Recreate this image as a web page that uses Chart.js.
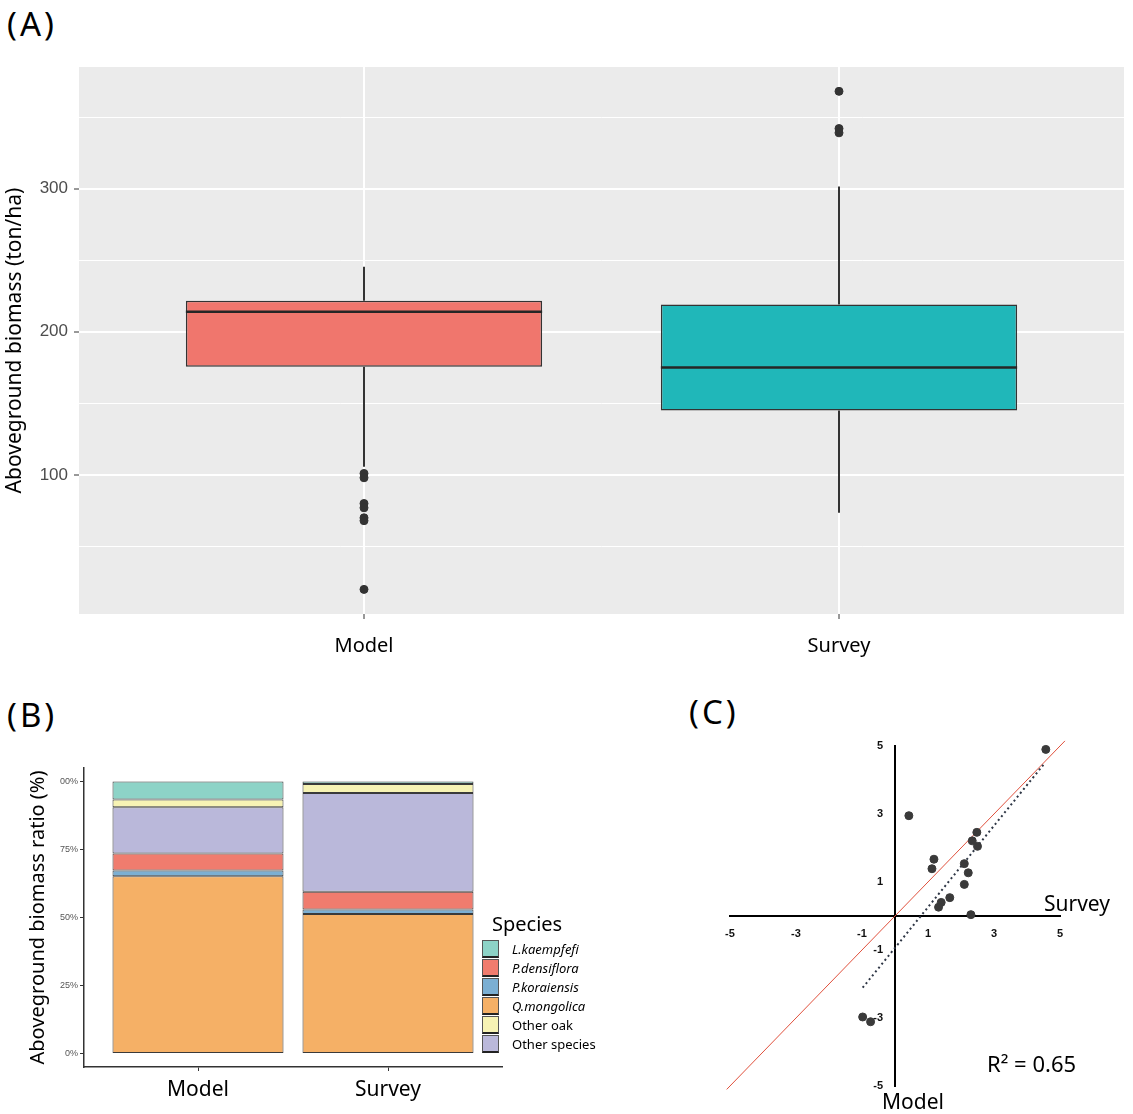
<!DOCTYPE html>
<html>
<head>
<meta charset="utf-8">
<script src="https://cdn.jsdelivr.net/npm/chart.js@4.4.1/dist/chart.umd.min.js"></script>
<style>
  html, body { margin: 0; padding: 0; background: #fff; }
  body { width: 1133px; height: 1114px; position: relative; overflow: hidden; font-family: "Noto Sans", sans-serif; }
  canvas { position: absolute; }
  .txt { position: absolute; white-space: nowrap; line-height: 1.2; color: #000; }
  .panel { font-size: 33px; letter-spacing: 3px; }
  .legend-row { position: absolute; left: 482px; height: 19px; line-height: 19px; font-size: 13px; white-space: nowrap; }
  .legend-key { position: absolute; left: 0; top: 0; width: 17px; height: 18px; border: 1px solid #555; border-bottom: 2px solid #222; box-sizing: border-box; }
  .legend-label { position: absolute; left: 30px; top: 0; }
</style>
</head>
<body>
<div class="txt panel" style="left:7px;top:4px">(A)</div>
<canvas id="boxChart" width="1133" height="680" style="left:0;top:0"></canvas>

<div class="txt panel" style="left:7px;top:695px">(B)</div>
<canvas id="shareChart" width="620" height="424" style="left:0;top:690px"></canvas>
<div class="txt" style="left:492px;top:912px;font-size:20px">Species</div>
<div id="shareLegend"></div>

<div class="txt panel" style="left:689px;top:692px">(C)</div>
<canvas id="fitChart" width="453" height="424" style="left:680px;top:690px"></canvas>
<div class="txt" style="left:1044px;top:891px;font-size:21px">Survey</div>
<div class="txt" style="left:882px;top:1089px;font-size:21px">Model</div>
<div class="txt" style="left:987px;top:1050px;font-size:22px">R² = 0.65</div>

<script>
// --- (A) biomass per group (ton/ha) ---
var boxGroups = ['Model', 'Survey'];
var boxQ1 = [175.5, 145];
var boxMedian = [214, 175];
var boxQ3 = [221.7, 219];
var whiskerLow = [105.6, 73.5];
var whiskerHigh = [245.5, 301.5];
var outliersModel = [101, 98, 80, 77, 70, 68, 20];
var outliersSurvey = [368, 342, 339];
var yTicksA = [50, 100, 150, 200, 250, 300, 350];

// --- (B) share of aboveground biomass (%), stacked bottom -> top ---
var shareGroups = ['Model', 'Survey'];
var speciesStack = ['Q.mongolica', 'P.koraiensis', 'P.densiflora', 'Other species', 'Other oak', 'L.kaempfefi'];
var shareModel = [65.2, 2.1, 6.2, 17.1, 2.8, 6.6];
var shareSurvey = [51.3, 1.6, 6.6, 36.3, 3.3, 0.9];
var legendOrder = ['L.kaempfefi', 'P.densiflora', 'P.koraiensis', 'Q.mongolica', 'Other oak', 'Other species'];
var yTicksB = [0, 25, 50, 75, 100];
var yTickLabelsB = ['0%', '25%', '50%', '75%', '00%'];

// --- (C) survey vs model ---
var surveyVals = [4.57, 0.42, 2.48, 2.34, 2.50, 1.18, 1.12, 2.10, 2.22, 2.10, 1.66, 1.40, 1.32, 2.30, -0.98, -0.74];
var modelVals = [4.90, 2.95, 2.46, 2.21, 2.05, 1.67, 1.39, 1.54, 1.27, 0.93, 0.54, 0.40, 0.26, 0.04, -2.97, -3.11];
var identityEnds = [-5.1, 5.15];
var fitEndsX = [-0.98, 4.55];
var fitEndsY = [-2.11, 4.51];
var axisTicksC = [-5, -3, -1, 1, 3, 5];

// styles
var ink = '#333333';
var boxColors = ['#F0766D', '#20B7B9'];
var BOX_WIDTH = 0.75;
var speciesColors = {
    'L.kaempfefi': '#8DD3C7',
    'P.densiflora': '#F07C6E',
    'P.koraiensis': '#7BAFD3',
    'Q.mongolica': '#F5B066',
    'Other oak': '#F7F3B4',
    'Other species': '#BAB8DA'
};
var italicNames = ['L.kaempfefi', 'P.densiflora', 'P.koraiensis', 'Q.mongolica'];

Chart.defaults.font.family = "'Noto Sans', sans-serif";
Chart.defaults.color = '#000';

// nền xám cho vùng vẽ (theme ggplot)
var panelBg = {
    id: 'panelBg',
    beforeDraw: function (chart, args, opts) {
        var a = chart.chartArea;
        chart.ctx.save();
        chart.ctx.fillStyle = opts.color;
        chart.ctx.fillRect(a.left, a.top, a.right - a.left, a.bottom - a.top);
        chart.ctx.restore();
    }
};

// nhãn trục y đặt cạnh trục giữa (Chart.js không cộng padding cho trục đặt theo giá trị)
var centerYLabels = {
    id: 'centerYLabels',
    afterDraw: function (chart, args, opts) {
        var ys = chart.scales.y, xs = chart.scales.x;
        var ctx = chart.ctx;
        var x0 = xs.getPixelForValue(0) - opts.gap;
        ctx.save();
        ctx.font = opts.font;
        ctx.fillStyle = opts.color;
        ctx.textAlign = 'right';
        ctx.textBaseline = 'middle';
        ys.ticks.forEach(function (t) {
            ctx.fillText(String(t.value), x0, ys.getPixelForValue(t.value));
        });
        ctx.restore();
    }
};

function groupTicks(groups) {
    return function (scale) { scale.ticks = groups.map(function (g, i) { return { value: i + 1 }; }); };
}

// === (A) BOXPLOT ===
var whiskerSets = boxGroups.map(function (g, i) {
    return {
        type: 'line',
        data: [
            { x: i + 1, y: whiskerHigh[i] }, { x: i + 1, y: boxQ3[i] }, { x: i + 1, y: null },
            { x: i + 1, y: boxQ1[i] }, { x: i + 1, y: whiskerLow[i] }
        ],
        borderColor: ink, borderWidth: 2, pointRadius: 0, spanGaps: false, order: 3
    };
});
var medianSets = boxGroups.map(function (g, i) {
    return {
        type: 'line',
        data: [{ x: i + 1 - BOX_WIDTH / 2, y: boxMedian[i] }, { x: i + 1 + BOX_WIDTH / 2, y: boxMedian[i] }],
        borderColor: '#262626', borderWidth: 2.5, pointRadius: 0, order: 1
    };
});
var outlierPoints = outliersModel.map(function (v) { return { x: 1, y: v }; })
    .concat(outliersSurvey.map(function (v) { return { x: 2, y: v }; }));

new Chart(document.getElementById('boxChart'), {
    type: 'bar',
    data: {
        datasets: [{
            type: 'bar',
            data: boxGroups.map(function (g, i) { return { x: i + 1, y: [boxQ1[i], boxQ3[i]] }; }),
            backgroundColor: boxColors, borderColor: ink, borderWidth: 1.5, borderSkipped: false,
            barPercentage: BOX_WIDTH, categoryPercentage: 1, order: 2
        }].concat(whiskerSets, medianSets, [{
            type: 'scatter', data: outlierPoints, backgroundColor: ink, borderColor: ink,
            pointRadius: 4, order: 0
        }])
    },
    options: {
        responsive: false, animation: false, events: [],
        layout: { padding: { left: 0, top: 67, right: 9, bottom: 0 } },
        plugins: { legend: { display: false }, tooltip: { enabled: false }, panelBg: { color: '#EBEBEB' } },
        scales: {
            x: {
                type: 'linear', min: 0.4, max: 2.6, offset: false,
                afterBuildTicks: groupTicks(boxGroups),
                afterFit: function (s) { s.height = 66; },
                grid: { offset: false, color: '#FFFFFF', lineWidth: 2, tickColor: ink, tickLength: 5, tickWidth: 1 },
                border: { display: false },
                ticks: {
                    callback: function (v) { return boxGroups[v - 1]; },
                    padding: 15, color: '#000', font: { size: 20 }, maxRotation: 0, autoSkip: false
                }
            },
            y: {
                type: 'linear', min: 2.8, max: 385, beginAtZero: false,
                afterBuildTicks: function (s) { s.ticks = yTicksA.map(function (v) { return { value: v }; }); },
                afterFit: function (s) { s.width = 79; },
                grid: {
                    color: '#FFFFFF',
                    lineWidth: function (c) { return c.tick && c.tick.value % 100 === 0 ? 2 : 1; },
                    tickColor: function (c) { return c.tick && c.tick.value % 100 === 0 ? ink : 'rgba(0,0,0,0)'; },
                    tickLength: 5, tickWidth: 1
                },
                border: { display: false },
                ticks: {
                    callback: function (v) { return v % 100 === 0 ? String(v) : ''; },
                    padding: 6, color: '#4D4D4D', font: { family: "'Liberation Sans', Arial, sans-serif", size: 17 }
                },
                title: {
                    display: true, text: 'Aboveground biomass (ton/ha)', color: '#000',
                    font: { size: 21 }, padding: { top: 2, bottom: 0 }
                }
            }
        }
    },
    plugins: [panelBg]
});

// === (B) STACKED BARS ===
new Chart(document.getElementById('shareChart'), {
    type: 'bar',
    data: {
        datasets: speciesStack.map(function (sp, k) {
            return {
                label: sp,
                data: [{ x: 1, y: shareModel[k] }, { x: 2, y: shareSurvey[k] }],
                backgroundColor: speciesColors[sp], borderColor: '#3A3A3A', borderWidth: 1,
                borderSkipped: false, barPercentage: 0.9, categoryPercentage: 1, stack: 'share'
            };
        })
    },
    options: {
        responsive: false, animation: false, events: [],
        layout: { padding: { left: 0, top: 78, right: 118, bottom: 0 } },
        plugins: { legend: { display: false }, tooltip: { enabled: false } },
        scales: {
            x: {
                type: 'linear', min: 0.4, max: 2.6, offset: false,
                afterBuildTicks: groupTicks(shareGroups),
                afterFit: function (s) { s.height = 47; },
                grid: { offset: false, drawOnChartArea: false, tickLength: 4, tickColor: ink, tickWidth: 1 },
                border: { display: true, color: ink, width: 1.5 },
                ticks: {
                    callback: function (v) { return shareGroups[v - 1]; },
                    padding: 6, color: '#000', font: { size: 21 }, maxRotation: 0, autoSkip: false
                }
            },
            y: {
                type: 'linear', min: -5, max: 105, stacked: true, beginAtZero: false,
                afterBuildTicks: function (s) { s.ticks = yTicksB.map(function (v) { return { value: v }; }); },
                afterFit: function (s) { s.width = 84; },
                grid: { drawOnChartArea: false, tickLength: 4, tickColor: ink, tickWidth: 1 },
                border: { display: true, color: ink, width: 1.5 },
                ticks: {
                    callback: function (v, i) { return yTickLabelsB[i]; },
                    padding: 2, color: '#555', font: { family: "'Liberation Sans', Arial, sans-serif", size: 9 }
                },
                title: {
                    display: true, text: 'Aboveground biomass ratio (%)', color: '#000',
                    font: { size: 20 }, padding: { top: 26, bottom: 0 }
                }
            }
        }
    }
});

// chú giải (legend) dựng bằng HTML
var legendBox = document.getElementById('shareLegend');
legendOrder.forEach(function (sp, k) {
    var row = document.createElement('div');
    row.className = 'legend-row';
    row.style.top = (940 + k * 19) + 'px';
    var key = document.createElement('div');
    key.className = 'legend-key';
    key.style.background = speciesColors[sp];
    var lab = document.createElement('div');
    lab.className = 'legend-label';
    lab.textContent = sp;
    if (italicNames.indexOf(sp) >= 0) lab.style.fontStyle = 'italic';
    row.appendChild(key);
    row.appendChild(lab);
    legendBox.appendChild(row);
});

// === (C) SCATTER ===
var axisFont = { family: "'Liberation Sans', Arial, sans-serif", size: 11, weight: 'bold' };
new Chart(document.getElementById('fitChart'), {
    type: 'scatter',
    data: {
        datasets: [{
            type: 'line',
            data: identityEnds.map(function (v) { return { x: v, y: v }; }),
            borderColor: '#E0503C', borderWidth: 1, pointRadius: 0, clip: false, order: 3
        }, {
            type: 'line',
            data: fitEndsX.map(function (x, i) { return { x: x, y: fitEndsY[i] }; }),
            borderColor: '#2E3645', borderWidth: 2, borderDash: [2, 3], pointRadius: 0, clip: false, order: 2
        }, {
            type: 'scatter',
            data: surveyVals.map(function (x, i) { return { x: x, y: modelVals[i] }; }),
            backgroundColor: '#3A3A3A', borderColor: '#3A3A3A', pointRadius: 4, clip: false, order: 1
        }]
    },
    options: {
        responsive: false, animation: false, events: [],
        layout: { padding: { left: 50, top: 56, right: 73, bottom: 28 } },
        plugins: {
            legend: { display: false }, tooltip: { enabled: false },
            centerYLabels: { gap: 12, color: '#111', font: "bold 11px 'Liberation Sans', Arial, sans-serif" }
        },
        scales: {
            x: {
                type: 'linear', min: -5, max: 5, position: { y: 0 },
                afterBuildTicks: function (s) { s.ticks = axisTicksC.map(function (v) { return { value: v }; }); },
                grid: { display: true, drawOnChartArea: false, drawTicks: false },
                border: { display: true, color: '#000', width: 2 },
                ticks: { padding: 11, color: '#111', font: axisFont, maxRotation: 0, autoSkip: false }
            },
            y: {
                type: 'linear', min: -5, max: 5, position: { x: 0 },
                afterBuildTicks: function (s) { s.ticks = axisTicksC.map(function (v) { return { value: v }; }); },
                grid: { display: true, drawOnChartArea: false, drawTicks: false },
                border: { display: true, color: '#000', width: 2 },
                ticks: { display: false }
            }
        }
    },
    plugins: [centerYLabels]
});
</script>
</body>
</html>
